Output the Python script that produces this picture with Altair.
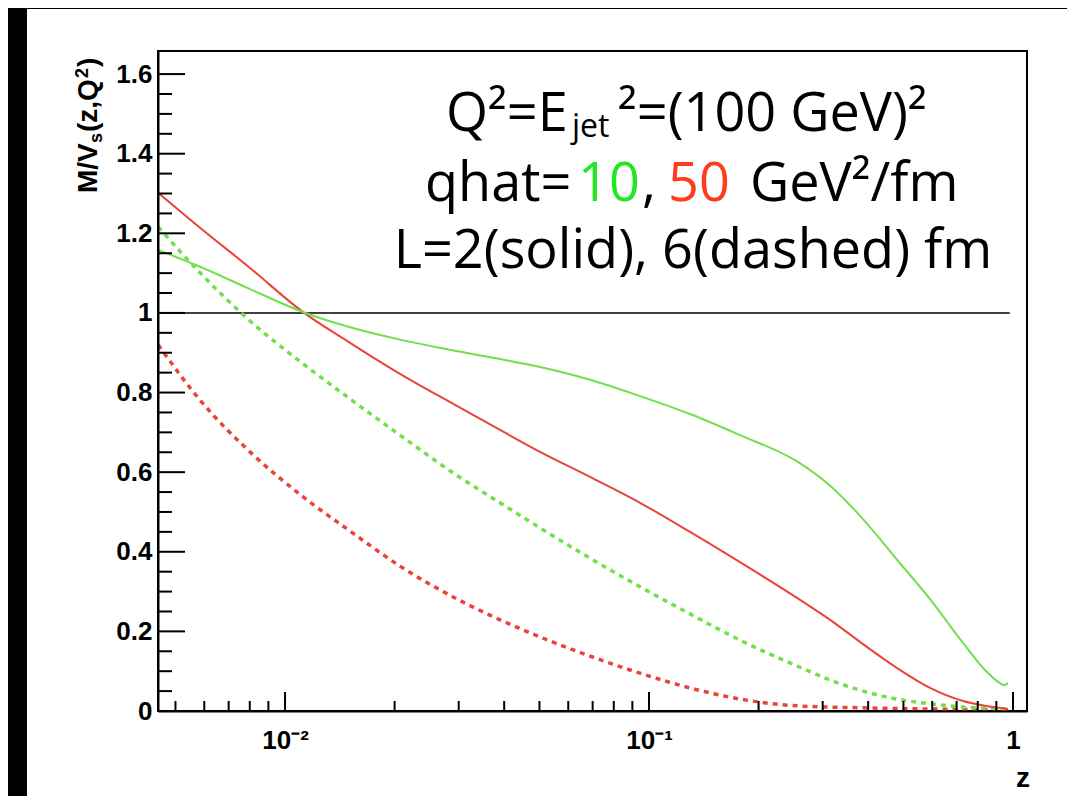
import altair as alt
import pandas as pd

# ---- data ----
# red solid: qhat=50, L=2
z_r2 = [0.00448, 0.00584, 0.00801, 0.01114, 0.01509, 0.02069, 0.02931, 0.03897, 0.05017, 0.06884,
        0.09447, 0.1296, 0.1778, 0.2551, 0.3144, 0.3872, 0.4801, 0.5916, 0.7290, 0.8376, 0.9690]
v_r2 = [1.302, 1.214, 1.113, 1.004, 0.925, 0.847, 0.769, 0.706, 0.651, 0.588,
        0.523, 0.450, 0.374, 0.284, 0.229, 0.168, 0.108, 0.058, 0.025, 0.013, 0.005]
# green solid: qhat=10, L=2
z_g2 = [0.00448, 0.00584, 0.00801, 0.01114, 0.01509, 0.02069, 0.02931, 0.03897, 0.05017, 0.06884,
        0.09447, 0.1296, 0.1778, 0.2551, 0.3144, 0.3872, 0.4801, 0.5916, 0.7290, 0.8376, 0.9211,
        0.9447, 0.9690]
v_g2 = [1.158, 1.116, 1.060, 1.003, 0.964, 0.933, 0.905, 0.884, 0.864, 0.832,
        0.791, 0.746, 0.693, 0.627, 0.566, 0.482, 0.380, 0.281, 0.171, 0.103, 0.070,
        0.065, 0.070]
# green dashed: qhat=10, L=6
z_g6 = [0.00448, 0.00584, 0.00801, 0.01114, 0.01509, 0.02069, 0.02931, 0.03897, 0.05017, 0.06884,
        0.09447, 0.1296, 0.1778, 0.2551, 0.3144, 0.3872, 0.4801, 0.5916, 0.7290, 0.9690]
v_g6 = [1.216, 1.101, 0.980, 0.874, 0.784, 0.693, 0.595, 0.523, 0.460, 0.384,
        0.312, 0.244, 0.178, 0.113, 0.078, 0.050, 0.030, 0.018, 0.010, 0.005]
# red dashed: qhat=50, L=6
z_r6 = [0.00448, 0.00584, 0.00801, 0.01114, 0.01509, 0.02069, 0.02931, 0.03897, 0.05017, 0.06884,
        0.09447, 0.1296, 0.1778, 0.2551, 0.3872, 0.5916, 0.9690]
v_r6 = [0.920, 0.781, 0.651, 0.540, 0.452, 0.364, 0.284, 0.229, 0.186, 0.138,
        0.095, 0.058, 0.030, 0.013, 0.008, 0.005, 0.003]

# reference line at 1
ref_z = [0.00448, 0.98]
ref_v = [1.0, 1.0]

# axis ticks / labels
x_major = [0.01, 0.1, 1.0]
x_minor = [0.005, 0.006, 0.007, 0.008, 0.009,
           0.02, 0.03, 0.04, 0.05, 0.06, 0.07, 0.08, 0.09,
           0.2, 0.3, 0.4, 0.5, 0.6, 0.7, 0.8, 0.9]
y_major = [0, 0.2, 0.4, 0.6, 0.8, 1.0, 1.2, 1.4, 1.6]
y_minor = [0.05, 0.1, 0.15, 0.25, 0.3, 0.35, 0.45, 0.5, 0.55, 0.65, 0.7, 0.75,
           0.85, 0.9, 0.95, 1.05, 1.1, 1.15, 1.25, 1.3, 1.35, 1.45, 1.5, 1.55]
x_domain = [0.004477, 1.0926]
y_domain = [0, 1.658]

W, H = 869, 660
AX = "Liberation Sans, Arial, sans-serif"
TXT = "Open Sans, Lato, sans-serif"
RED = "#e8443a"
GREEN = "#72e04e"
FS = 54

xs = alt.Scale(type="log", domain=x_domain, nice=False)
ys = alt.Scale(domain=y_domain, nice=False, zero=False)
x_axis = alt.Axis(values=x_major, ticks=False, grid=False, domain=True, domainColor="black",
                  domainWidth=2, labelFont=AX, labelFontSize=26, labelFontWeight="bold",
                  labelColor="black", labelPadding=16, labelFlush=False, title=None, zindex=1,
                  labelExpr="datum.value >= 0.5 ? '1' : (datum.value >= 0.05 ? '10⁻¹' : '10⁻²')")
y_axis = alt.Axis(values=y_major, ticks=False, grid=False, domain=True, domainColor="black",
                  domainWidth=2, labelFont=AX, labelFontSize=26, labelFontWeight="bold",
                  labelColor="black", labelPadding=6, labelFlush=False, format="~g", title=None,
                  zindex=1)


def X(f):
    return alt.X(f + ":Q", scale=xs, axis=x_axis)


def Y(f):
    return alt.Y(f + ":Q", scale=ys, axis=y_axis)


def curve(z, v, color, dashed):
    df = pd.DataFrame({"z": z, "v": v})
    if dashed:
        m = alt.Chart(df).mark_line(color=color, strokeWidth=3.5, strokeDash=[5, 5],
                                    interpolate="monotone", clip=True)
    else:
        m = alt.Chart(df).mark_line(color=color, strokeWidth=2, interpolate="monotone", clip=True)
    return m.encode(x=X("z"), y=Y("v"))


one = pd.DataFrame({"a": [0]})


def text(s, x, y, size, color="black", font=TXT, weight="normal", align="left", angle=0):
    kw = dict(text=s, align=align, baseline="alphabetic", font=font, fontSize=size,
              color=color, fontWeight=weight)
    if angle:
        kw["angle"] = angle
    return alt.Chart(one).mark_text(**kw).encode(x=alt.value(x), y=alt.value(y))


layers = []
# black left / top strips of the slide
layers.append(alt.Chart(one).mark_rect(color="black").encode(
    x=alt.value(-150), x2=alt.value(-131), y=alt.value(-43), y2=alt.value(760)))
layers.append(alt.Chart(one).mark_rect(color="black").encode(
    x=alt.value(-150), x2=alt.value(920), y=alt.value(-43), y2=alt.value(-42)))

layers.append(alt.Chart(pd.DataFrame({"z": ref_z, "v": ref_v})).mark_line(
    color="black", strokeWidth=1.5).encode(x=X("z"), y=Y("v")))

layers.append(curve(z_r6, v_r6, RED, True))
layers.append(curve(z_g6, v_g6, GREEN, True))
layers.append(curve(z_r2, v_r2, RED, False))
layers.append(curve(z_g2, v_g2, GREEN, False))

# inward ticks
layers.append(alt.Chart(pd.DataFrame({"t": y_major})).mark_rule(color="black", strokeWidth=2).encode(
    y=Y("t"), x=alt.value(0), x2=alt.value(27)))
layers.append(alt.Chart(pd.DataFrame({"t": y_minor})).mark_rule(color="black", strokeWidth=2).encode(
    y=Y("t"), x=alt.value(0), x2=alt.value(14)))
layers.append(alt.Chart(pd.DataFrame({"t": x_major})).mark_rule(color="black", strokeWidth=2).encode(
    x=X("t"), y=alt.value(H), y2=alt.value(H - 19)))
layers.append(alt.Chart(pd.DataFrame({"t": x_minor})).mark_rule(color="black", strokeWidth=2).encode(
    x=X("t"), y=alt.value(H), y2=alt.value(H - 10)))

# axis titles
layers.append(text("z", 872, 736, 28, font=AX, weight="bold", align="right"))
layers.append(text("M/V", -61, 142, 28, font=AX, weight="bold", angle=270))
layers.append(text("s", -56, 92, 18, font=AX, weight="bold", angle=270))
layers.append(text("(z,Q", -61, 81, 28, font=AX, weight="bold", angle=270))
layers.append(text("2", -70, 27, 18, font=AX, weight="bold", angle=270))
layers.append(text(")", -61, 16, 28, font=AX, weight="bold", angle=270))

# annotation
layers.append(text("Q²=E", 288, 80, FS))
layers.append(text("jet", 414, 86, 32))
layers.append(text("²=(100 GeV)²", 460, 80, FS))
layers.append(text("qhat=", 267, 150, FS))
layers.append(text("10", 420, 150, FS, color="#22e722"))
layers.append(text(",", 484, 150, FS))
layers.append(text("50", 510, 150, FS, color="#ff3b1c"))
layers.append(text("GeV²/fm", 592, 150, FS))
layers.append(text("L=2(solid), 6(dashed) fm", 535, 217, FS, align="center"))

chart = alt.layer(*layers).properties(
    width=W, height=H,
    padding={"left": 150, "top": 43, "right": 40, "bottom": 85},
    autosize=alt.AutoSizeParams(type="none"),
    background="white",
).configure_view(stroke="black", strokeWidth=2)

chart.save("out.html", embed_options={"renderer": "svg", "actions": False})
